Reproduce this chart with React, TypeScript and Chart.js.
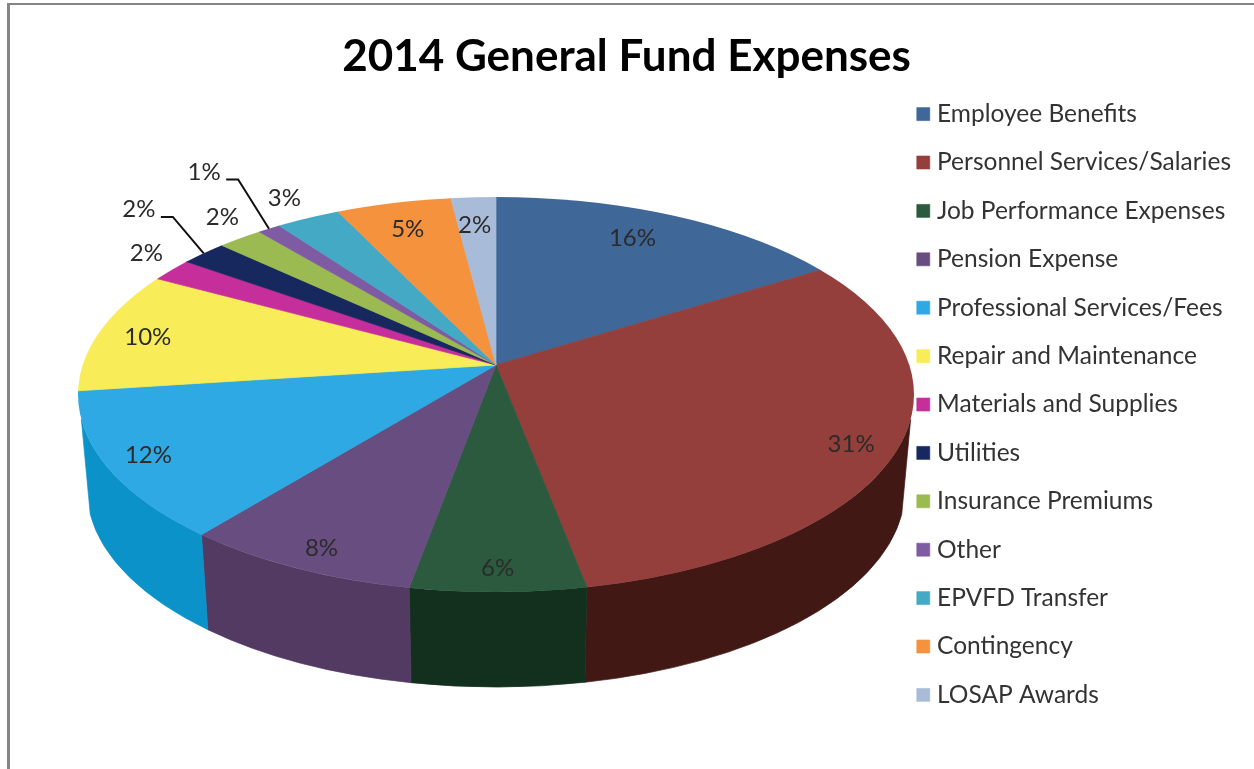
import React, { useEffect, useRef } from "react";
import { Chart, registerables } from "chart.js";

Chart.register(...registerables);

const titleText = "2014 General Fund Expenses";
const categories = [
  "Employee Benefits", "Personnel Services/Salaries", "Job Performance Expenses", "Pension Expense",
  "Professional Services/Fees", "Repair and Maintenance", "Materials and Supplies", "Utilities",
  "Insurance Premiums", "Other", "EPVFD Transfer", "Contingency", "LOSAP Awards",
];
const percentValues = [15.5, 31.2, 6.45, 8.45, 11.5, 10.4, 2.0, 2.1, 2.0, 1.0, 2.75, 4.8, 1.85];
const topColors = [
  "#3f6797", "#953f3c", "#2b5a3e", "#684e80", "#2ea9e3", "#f8ec58", "#c62f9b",
  "#17285f", "#9bbb52", "#7f5ba3", "#44a9c4", "#f5923e", "#a8bcd9",
];
const wallColors = [
  "#26405e", "#421815", "#13301f", "#523a63", "#0b93c9", "#b5a93a", "#8a1f6c",
  "#0e1a40", "#6d853a", "#5a4074", "#2f7a8d", "#b06a2c", "#7a8aa0",
];
// label offsets from the point at 80% of the radius on each slice's middle angle
const labelNudges = [
  [-20, 1], [45, 15], [0, 31], [-25, 29], [-51, 11], [-21, 2], [-73, -31],
  [-107, -60], [-54, -39], [-97, -76], [-50, -41], [0, 3], [-2, 4],
];
const leaderSlices = [7, 9];

const PIE = {
  cx: 496, apexY: 365, rx: 418, ryBack: 180, ryFront: 215,
  rimY: 394.5, rimRy: 197.5, depth: 95, bottomRx: 409, wallClamp: 0.127, overscan: 1.3,
};

function rayPoint(a: number, f: number) {
  const ry = Math.sin(a) >= 0 ? PIE.ryFront : PIE.ryBack;
  return { x: PIE.cx + f * PIE.rx * Math.cos(a), y: PIE.apexY + f * ry * Math.sin(a) };
}
function rimHit(a: number) {
  const ry = Math.sin(a) >= 0 ? PIE.ryFront : PIE.ryBack;
  const dx = PIE.rx * Math.cos(a);
  const dy = ry * Math.sin(a);
  const off = PIE.apexY - PIE.rimY;
  const A = (dx / PIE.rx) ** 2 + (dy / PIE.rimRy) ** 2;
  const B = (2 * off * dy) / PIE.rimRy ** 2;
  const C = (off / PIE.rimRy) ** 2 - 1;
  const s = (-B + Math.sqrt(B * B - 4 * A * C)) / (2 * A);
  return { x: PIE.cx + s * dx, y: PIE.apexY + s * dy };
}
function rimParam(a: number) {
  const p = rimHit(a);
  let t = Math.atan2((p.y - PIE.rimY) / PIE.rimRy, (p.x - PIE.cx) / PIE.rx);
  if (t < -Math.PI / 2) t += Math.PI * 2;
  return t;
}

const pie3d = {
  id: "pie3d",
  afterLayout(chart: any) {
    chart.legend.top += 20;
    chart.legend.bottom += 20;
  },
  beforeDraw(chart: any) {
    const { ctx, width, height } = chart;
    ctx.save();
    ctx.fillStyle = "#ffffff";
    ctx.fillRect(0, 0, width, height);
    ctx.fillStyle = "#858585";
    ctx.fillRect(7, 3, 3, height - 3);
    ctx.fillRect(7, 3, width - 7, 2);
    ctx.restore();
  },
  beforeDatasetsDraw(chart: any) {
    const { ctx } = chart;
    const arcs = chart.getDatasetMeta(0).data;

    // side wall of the front rim
    arcs.forEach((arc: any, i: number) => {
      const a0 = Math.max(0, arc.startAngle);
      const a1 = Math.min(Math.PI, arc.endAngle);
      if (a0 >= a1) return;
      const t0 = Math.max(PIE.wallClamp, rimParam(a0));
      const t1 = Math.min(Math.PI - PIE.wallClamp, rimParam(a1));
      if (t0 >= t1) return;
      ctx.save();
      ctx.fillStyle = wallColors[i];
      ctx.strokeStyle = wallColors[i];
      ctx.lineWidth = 0.7;
      ctx.beginPath();
      ctx.ellipse(PIE.cx, PIE.rimY, PIE.rx, PIE.rimRy, 0, t0, t1);
      ctx.ellipse(PIE.cx, PIE.rimY + PIE.depth, PIE.bottomRx, PIE.rimRy, 0, t1, t0, true);
      ctx.closePath();
      ctx.fill();
      ctx.stroke();
      ctx.restore();
    });

    // top face: back and front parts, clipped to the rim ellipse
    const parts = [
      { ry: PIE.ryBack, y0: 0, y1: PIE.apexY + 0.5 },
      { ry: PIE.ryFront, y0: PIE.apexY, y1: chart.height },
    ];
    parts.forEach((part) => {
      ctx.save();
      ctx.beginPath();
      ctx.ellipse(PIE.cx, PIE.rimY, PIE.rx, PIE.rimRy, 0, 0, Math.PI * 2);
      ctx.clip();
      ctx.beginPath();
      ctx.rect(0, part.y0, chart.width, part.y1 - part.y0);
      ctx.clip();
      const first = arcs[0];
      ctx.translate(PIE.cx, PIE.apexY);
      ctx.scale((PIE.rx * PIE.overscan) / first.outerRadius, (part.ry * PIE.overscan) / first.outerRadius);
      ctx.translate(-first.x, -first.y);
      arcs.forEach((arc: any) => arc.draw(ctx));
      ctx.restore();
    });

    // percentage labels and leader lines
    ctx.save();
    ctx.font = "24px Lato";
    ctx.textAlign = "center";
    ctx.textBaseline = "middle";
    arcs.forEach((arc: any, i: number) => {
      const mid = (arc.startAngle + arc.endAngle) / 2;
      const p = rayPoint(mid, 0.8);
      const lx = p.x + labelNudges[i][0];
      const ly = p.y + labelNudges[i][1];
      ctx.fillStyle = "#2b2b2b";
      ctx.fillText(`${Math.round(percentValues[i])}%`, lx, ly);
      if (leaderSlices.includes(i)) {
        const end = rimHit(mid);
        ctx.strokeStyle = "#111111";
        ctx.lineWidth = 2;
        ctx.beginPath();
        ctx.moveTo(lx + 22, ly + 7.5);
        ctx.lineTo(lx + 34, ly + 7.5);
        ctx.lineTo(end.x, end.y);
        ctx.stroke();
      }
    });
    ctx.restore();
    return false;
  },
};

export default function App() {
  const ref = useRef<HTMLCanvasElement>(null);
  useEffect(() => {
    const chart = new Chart(ref.current as HTMLCanvasElement, {
      type: "pie",
      data: {
        labels: categories,
        datasets: [{ data: percentValues, backgroundColor: topColors, borderColor: topColors, borderWidth: 0.6 }],
      },
      options: {
        responsive: false,
        animation: false,
        layout: { padding: { left: 12, right: 13, top: 0, bottom: 0 } },
        plugins: {
          tooltip: { enabled: false },
          title: {
            display: true,
            text: titleText,
            color: "#000000",
            font: { family: "Lato", size: 44, weight: "bold" },
            padding: { top: 30, bottom: 20 },
          },
          legend: {
            display: true,
            position: "right",
            labels: {
              usePointStyle: true,
              pointStyle: "rect",
              boxWidth: 3,
              boxHeight: 13,
              padding: 23.9,
              color: "#333333",
              font: { family: "Lato", size: 24.5 },
            },
          },
        },
      },
      plugins: [pie3d],
    } as any);
    return () => chart.destroy();
  }, []);
  return (
    <div style={{ position: "absolute", left: 0, top: 0, width: 1254, height: 769, overflow: "hidden" }}>
      <canvas ref={ref} width={1254} height={769} style={{ display: "block" }} />
    </div>
  );
}
